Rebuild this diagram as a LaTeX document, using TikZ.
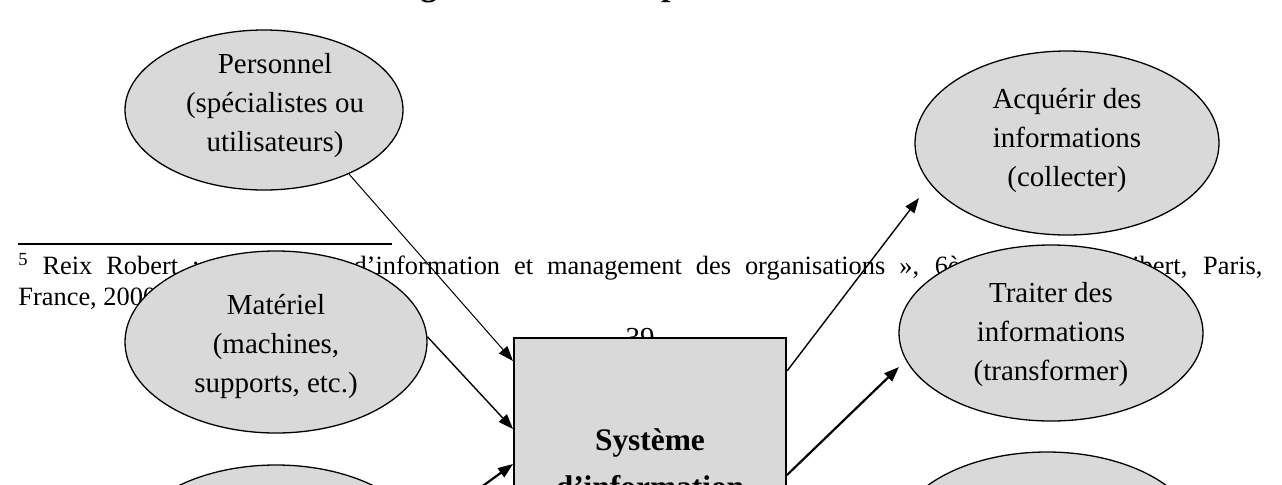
\documentclass[tikz,border=0pt]{standalone}
\usepackage{fontspec}
\setmainfont{Liberation Serif}
\usetikzlibrary{shapes.geometric,arrows.meta}
\definecolor{shade}{gray}{0.85}

\begin{document}
\begin{tikzpicture}[x=0.5pt,y=-0.5pt,
  bubble/.style={ellipse, draw=black, line width=0.65pt, fill=shade,
    inner sep=0pt, minimum width=151pt, minimum height=88pt},
  bubbletext/.style={inner sep=0pt, align=center, font=\fontsize{14.5}{19.5}\selectfont},
  core/.style={rectangle, draw=black, line width=1pt, fill=shade,
    inner sep=0pt, minimum width=136pt, minimum height=125.5pt, align=center,
    font=\fontsize{15.7}{23.5}\selectfont\bfseries},
  pagetext/.style={inner sep=0pt, anchor=base west, font=\fontsize{13.2}{15}\selectfont},
  tip/.style={-{Triangle[length=7.5pt,width=5.5pt]}},
  thinlink/.style={tip, line width=0.5pt},
  midlink/.style={tip, line width=0.7pt},
  thicklink/.style={tip, line width=1.1pt}]

\useasboundingbox (0,0) rectangle (1282,484);
\clip (0,0) rectangle (1282,484);
\fill[white] (0,0) rectangle (1282,484);

% page material behind the diagram: caption, footnote, page number
\node[inner sep=0pt, anchor=base west, font=\fontsize{16.9}{20}\selectfont\bfseries]
  (caption) at (390,-4.5) {Figure 2 : Les composantes du SI};
\draw[line width=0.75pt] (18,244) -- (392,244);
\node[pagetext] (fnA) at (18,274)
  {\makebox[622pt][s]{\textsuperscript{5} Reix Robert : « Système d’information et management des organisations », 6ème édition, Vuibert, Paris,}};
\node[pagetext] (fnB) at (18,305) {France, 2000.};
\node[inner sep=0pt, anchor=base, font=\fontsize{14.5}{17}\selectfont] (pageno) at (640,347) {39};

% resources (left)
\node[bubble, minimum width=139pt, minimum height=80pt] (pers) at (264,110) {};
\node[bubbletext] (perst) at (275,106) {Personnel\\(spécialistes ou\\utilisateurs)};
\node[bubble, minimum height=91pt] (mat) at (276,342) {};
\node[bubbletext] (matt) at (276,346) {Matériel\\(machines,\\supports, etc.)};
\node[bubble] (lowleft) at (276,553) {};

% central system
\node[core] (si) at (650,463.5) {Système\\d’information};

% functions (right)
\node[bubble, minimum width=152pt, minimum height=92pt] (acq) at (1067,143) {};
\node[bubbletext] (acqt) at (1067,140) {Acquérir des\\informations\\(collecter)};
\node[bubble, minimum width=152pt, minimum height=88pt] (trait) at (1051,333) {};
\node[bubbletext] (traitt) at (1051,335) {Traiter des\\informations\\(transformer)};
\node[bubble, minimum width=152pt] (lowright) at (1047,540) {};

% arrow ends short of the function ellipses
\coordinate (acqin) at (919,198);
\coordinate (traitin) at (899,367);

% connectors
\draw[thinlink] (pers.-37) -- ([yshift=-12pt]si.north west);
\draw[midlink] (mat.2) -- ([yshift=-46pt]si.north west);
\draw[thicklink] (lowleft.9) -- ([yshift=-63.5pt]si.north west);
\draw[midlink] ([yshift=-17pt]si.north east) -- (acqin);
\draw[thicklink] ([yshift=-69pt]si.north east) -- (traitin);
\end{tikzpicture}
\end{document}
